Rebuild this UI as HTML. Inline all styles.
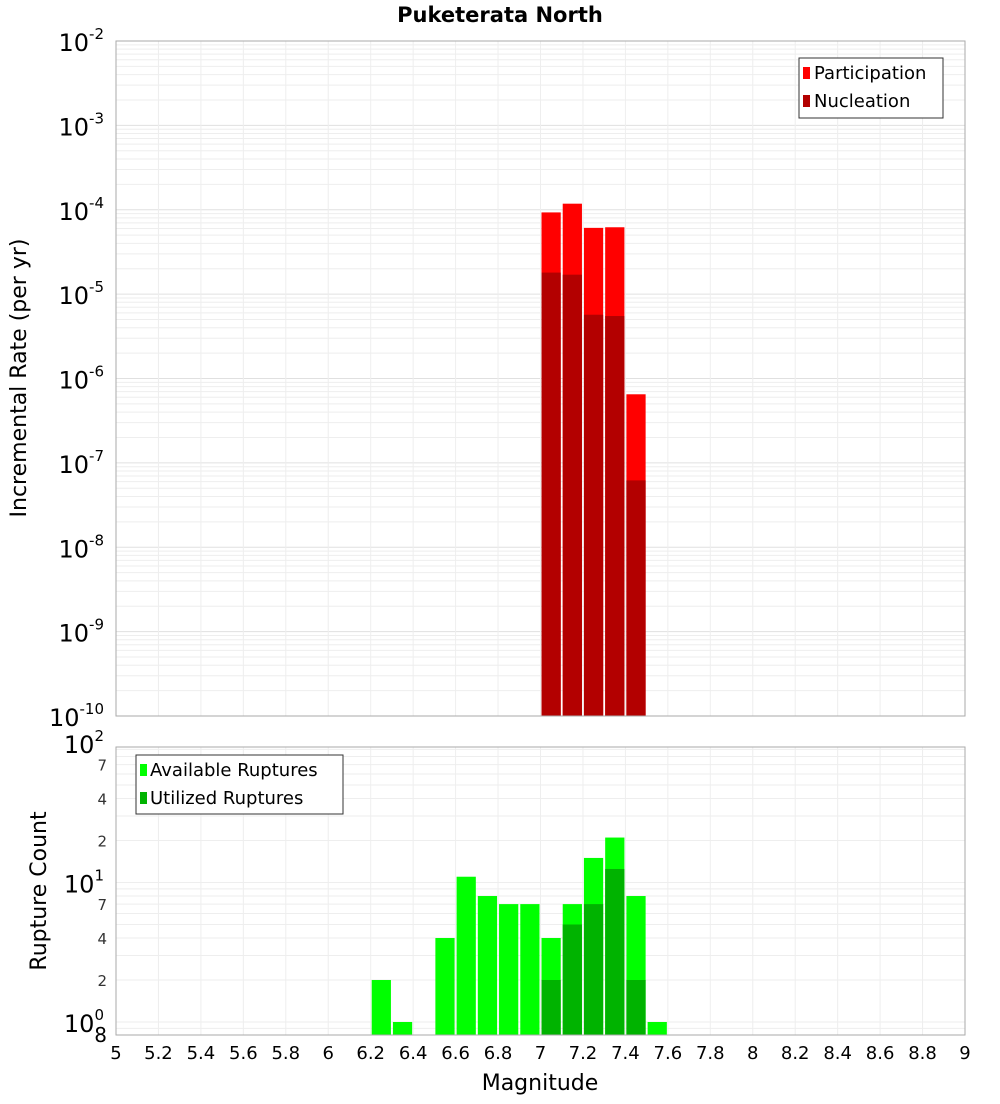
<!DOCTYPE html>
<html><head><meta charset="utf-8"><style>
body{margin:0;background:#fff;font-family:"DejaVu Sans","Liberation Sans",sans-serif;}
svg text{font-family:"DejaVu Sans","Liberation Sans",sans-serif;}
</style></head><body>
<svg id="chart" width="1000" height="1100" xmlns="http://www.w3.org/2000/svg">
<text x="500" y="22" text-anchor="middle" font-size="21" font-weight="bold">Puketerata North</text>
<g id="topPlot"></g><g id="botPlot"></g>
<text transform="translate(26,378) rotate(-90)" text-anchor="middle" font-size="22">Incremental Rate (per yr)</text>
<text transform="translate(46,891) rotate(-90)" text-anchor="middle" font-size="22">Rupture Count</text>
<text x="540" y="1090" text-anchor="middle" font-size="22">Magnitude</text>
</svg>
<script>
const topBins=[7.0,7.1,7.2,7.3,7.4];
const participation=[9.3e-5,1.18e-4,6.1e-5,6.2e-5,6.5e-7];
const nucleation=[1.8e-5,1.7e-5,5.7e-6,5.5e-6,6.2e-8];
const botBins=[6.2,6.3,6.5,6.6,6.7,6.8,6.9,7.0,7.1,7.2,7.3,7.4,7.5];
const available=[2,1,4,11,8,7,7,4,7,15,21,8,1];
const utilizedBins=[7.0,7.1,7.2,7.3,7.4];
const utilized=[2,5,7,12.5,2];
const xTicks=[5,5.2,5.4,5.6,5.8,6,6.2,6.4,6.6,6.8,7,7.2,7.4,7.6,7.8,8,8.2,8.4,8.6,8.8,9];
const topDecades=[-10,-9,-8,-7,-6,-5,-4,-3,-2];
const botMinorLabels=[2,4,7,20,40,70];

const NS="http://www.w3.org/2000/svg";
const X0=116,X1=965;
const xs=v=>X0+(v-5)*(X1-X0)/4;
const T0=41,T1=716;
const yT=v=>T0+(-2-Math.log10(v))*(T1-T0)/8;
const B0=747,B1=1035;
const yB=v=>1022-Math.log10(v)*139.5;
function el(p,tag,a){const e=document.createElementNS(NS,tag);for(const k in a)e.setAttribute(k,a[k]);p.appendChild(e);return e;}
const topG=document.getElementById('topPlot'),botG=document.getElementById('botPlot');

let gr=el(topG,'g',{});


for(let d=-10;d<-2;d++)for(let m=1;m<10;m++){const y=yT(m*Math.pow(10,d));el(gr,'line',{x1:X0,x2:X1,y1:y,y2:y,stroke:m==1?'#e0e0e0':'#eeeeee','stroke-width':1});}
xTicks.forEach(t=>{el(gr,'line',{x1:xs(t),x2:xs(t),y1:T0,y2:T1,stroke:'#eeeeee'});});
topBins.forEach((b,i)=>{
 const r=el(topG,'rect',{x:xs(b)+1,y:yT(participation[i]),width:xs(b+0.1)-xs(b)-2,height:T1-yT(participation[i]),fill:'#ff0000'});
 
 
 const n=el(topG,'rect',{x:xs(b)+1,y:yT(nucleation[i]),width:xs(b+0.1)-xs(b)-2,height:T1-yT(nucleation[i]),fill:'#b30000'});
 
 
});
el(topG,'rect',{x:X0,y:T0,width:X1-X0,height:T1-T0,fill:'none',stroke:'#aaaaaa'});
topDecades.forEach(d=>{
 const t=el(topG,'text',{x:104,y:yT(Math.pow(10,d))+10,'text-anchor':'end','font-size':24});
 
 
 t.textContent='10';
 const s=el(t,'tspan',{dy:-12,'font-size':15});s.textContent=String(d);
});
let lg=el(topG,'g',{});


el(lg,'rect',{x:799,y:58,width:144,height:60,fill:'#fff',stroke:'#333'});
el(lg,'rect',{x:803,y:67,width:7,height:12,fill:'#ff0000'});
el(lg,'rect',{x:803,y:95,width:7,height:12,fill:'#b30000'});
let t1=el(lg,'text',{x:814,y:79,'font-size':18});t1.textContent='Participation';
let t2=el(lg,'text',{x:814,y:107,'font-size':18});t2.textContent='Nucleation';

gr=el(botG,'g',{});


for(let d=-1;d<2;d++)for(let m=1;m<10;m++){const y=yB(m*Math.pow(10,d));if(y>=B0&&y<=B1)el(gr,'line',{x1:X0,x2:X1,y1:y,y2:y,stroke:'#eeeeee'});}
xTicks.forEach(t=>{el(gr,'line',{x1:xs(t),x2:xs(t),y1:B0,y2:B1,stroke:'#eeeeee'});});
botBins.forEach((b,i)=>{
 const r=el(botG,'rect',{x:xs(b)+1,y:yB(available[i]),width:xs(b+0.1)-xs(b)-2,height:B1-yB(available[i]),fill:'#00ff00'});
 
 
});
utilizedBins.forEach((b,i)=>{
 const r=el(botG,'rect',{x:xs(b)+1,y:yB(utilized[i]),width:xs(b+0.1)-xs(b)-2,height:B1-yB(utilized[i]),fill:'#00b300'});
 
 
});
el(botG,'rect',{x:X0,y:B0,width:X1-X0,height:B1-B0,fill:'none',stroke:'#aaaaaa'});
[0,1,2].forEach(d=>{
 const t=el(botG,'text',{x:104,y:yB(Math.pow(10,d))+10,'text-anchor':'end','font-size':24});
 
 
 t.textContent='10';
 const s=el(t,'tspan',{dy:-12,'font-size':15});s.textContent=String(d);
});
botMinorLabels.forEach(v=>{
 const t=el(botG,'text',{x:107,y:yB(v)+6,'text-anchor':'end','font-size':15,fill:'#333'});
 
 
 t.textContent=String(v).slice(0,1);
});
let e8=el(botG,'text',{x:107,y:1042,'text-anchor':'end','font-size':20});e8.textContent='8';
xTicks.forEach(v=>{
 const t=el(botG,'text',{x:xs(v),y:1059,'text-anchor':'middle','font-size':18});
 
 
 t.textContent=String(v);
});
lg=el(botG,'g',{});


el(lg,'rect',{x:136,y:755,width:207,height:59,fill:'#fff',stroke:'#333'});
el(lg,'rect',{x:140,y:764,width:7,height:12,fill:'#00ff00'});
el(lg,'rect',{x:140,y:792,width:7,height:12,fill:'#00b300'});
t1=el(lg,'text',{x:150,y:776,'font-size':18});t1.textContent='Available Ruptures';
t2=el(lg,'text',{x:150,y:804,'font-size':18});t2.textContent='Utilized Ruptures';
</script>
</body></html>
